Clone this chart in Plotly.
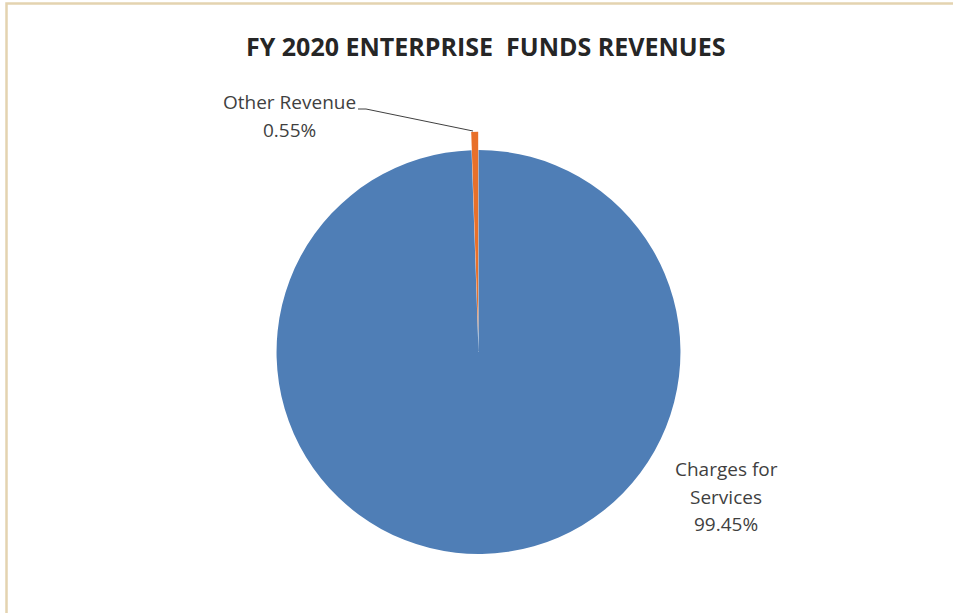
import plotly.graph_objects as go

# Revenue shares (percent of total)
labels = ["Charges for Services", "Other Revenue"]
values = [99.45, 0.55]
colors = ["#4F7EB6", "#E8702A"]
pulls = [0, 0.09]

title_text = "FY 2020 ENTERPRISE\u00a0 FUNDS REVENUES"

W, H = 953, 613


def px(x):
    return x / W


def py(y):
    return 1 - y / H


fig = go.Figure(
    go.Pie(
        labels=labels,
        values=values,
        sort=False,
        direction="clockwise",
        rotation=0,
        pull=pulls,
        marker=dict(colors=colors, line=dict(width=0)),
        textinfo="none",
        hoverinfo="label+percent",
        showlegend=False,
        domain=dict(x=[0.2711, 0.7331], y=[0.0666, 0.7850]),
    )
)

label_font = dict(family="Open Sans, sans-serif", size=19, color="#3F3F3F")


def pct(v):
    return f"{v / sum(values) * 100:.2f}%"


annotations = [
    dict(text=f"<b>{title_text}</b>", x=px(486), y=py(46), xref="paper", yref="paper",
         showarrow=False, xanchor="center", yanchor="middle",
         font=dict(family="Open Sans, sans-serif", size=25, color="#262626")),
    # Other Revenue label
    dict(text=labels[1], x=px(289), y=py(102), xref="paper", yref="paper",
         showarrow=False, xanchor="center", yanchor="middle", font=label_font),
    dict(text=pct(values[1]), x=px(289), y=py(130), xref="paper", yref="paper",
         showarrow=False, xanchor="center", yanchor="middle", font=label_font),
    # Charges for Services label
    dict(text="Charges for", x=px(726), y=py(469), xref="paper", yref="paper",
         showarrow=False, xanchor="center", yanchor="middle", font=label_font),
    dict(text="Services", x=px(726), y=py(497), xref="paper", yref="paper",
         showarrow=False, xanchor="center", yanchor="middle", font=label_font),
    dict(text=pct(values[0]), x=px(726), y=py(524), xref="paper", yref="paper",
         showarrow=False, xanchor="center", yanchor="middle", font=label_font),
]

shapes = [
    # chart frame
    dict(type="rect", xref="paper", yref="paper",
         x0=px(6.5), x1=px(W + 10), y0=py(H + 10), y1=py(3.5),
         line=dict(color="#E4D3B0", width=2.5), fillcolor="rgba(0,0,0,0)", layer="below"),
    # leader line for the small slice
    dict(type="path", xref="paper", yref="paper",
         path=f"M {px(358)},{py(109)} L {px(366)},{py(109)} L {px(473)},{py(131)}",
         line=dict(color="#404040", width=1)),
]

fig.update_layout(
    width=W,
    height=H,
    margin=dict(l=0, r=0, t=0, b=0),
    paper_bgcolor="white",
    plot_bgcolor="white",
    annotations=annotations,
    shapes=shapes,
)

fig.write_html("out.html")
